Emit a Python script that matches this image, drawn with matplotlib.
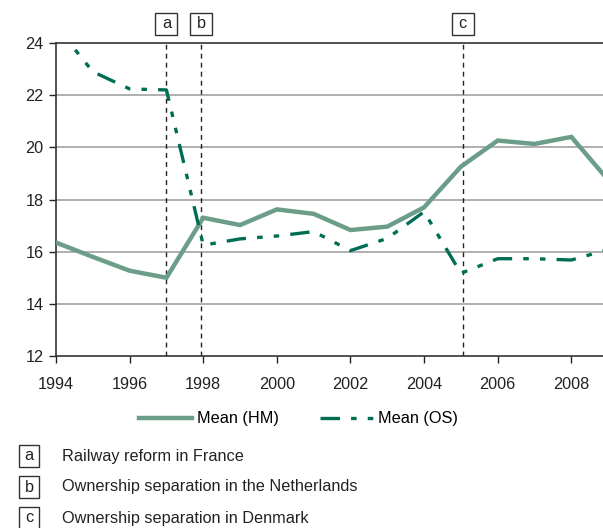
import matplotlib
matplotlib.use('Agg')
import matplotlib.pyplot as plt
from matplotlib.patches import Rectangle

plt.rcParams['font.family'] = ['Liberation Sans', 'DejaVu Sans']
plt.rcParams['lines.scale_dashes'] = False

years = [1994, 1995, 1996, 1997, 1998, 1999, 2000, 2001, 2002, 2003, 2004, 2005, 2006, 2007, 2008, 2009]
mean_hm = [16.35, 15.8, 15.27, 15.0, 17.3, 17.02, 17.62, 17.45, 16.83, 16.96, 17.7, 19.26, 20.26, 20.13, 20.4, 18.75]
mean_os = [24.65, 22.9, 22.24, 22.2, 16.25, 16.49, 16.6, 16.77, 16.04, 16.51, 17.53, 15.17, 15.73, 15.73, 15.68, 16.08]

events = [1997, 1997.95, 2005.05]
event_keys = ['a', 'b', 'c']
event_text = ['Railway reform in France',
              'Ownership separation in the Netherlands',
              'Ownership separation in Denmark']

yticks = [12, 14, 16, 18, 20, 22, 24]
xticks = [1994, 1996, 1998, 2000, 2002, 2004, 2006, 2008]

c_hm = '#6b9d89'
c_os = '#006e54'
fs = 11.7
W, H = 603, 528

fig = plt.figure(figsize=(W/100, H/100), dpi=100)
ax = fig.add_axes([56/W, (H-356)/H, (W-56)/W, 313/H])

for y in yticks[1:-1]:
    ax.axhline(y, color='#9a9a9a', lw=1.1, zorder=1)

for x in events:
    ax.axvline(x, color='#222222', lw=1.0, dashes=(3.5, 3.0), zorder=2)

ax.plot(years, mean_hm, color=c_hm, lw=3.2, solid_joinstyle='miter', zorder=3, label='Mean (HM)')
ax.plot(years, mean_os, color=c_os, lw=2.4, dashes=(14, 8, 4, 8, 4, 8), zorder=4, label='Mean (OS)')

ax.set_xlim(1994, 2008.86)
ax.set_ylim(12, 24)
ax.set_xticks(xticks)
ax.set_yticks(yticks)
ax.tick_params(axis='y', direction='out', length=5, width=1.0, labelsize=fs, colors='#222222', pad=4)
ax.tick_params(axis='x', direction='out', length=5, width=1.0, labelsize=fs, colors='#222222', pad=10)

ax.spines['right'].set_visible(False)
for side in ['left', 'bottom', 'top']:
    ax.spines[side].set_color('#333333')
    ax.spines[side].set_linewidth(1.2)


def key_box(xc, yc, w, h, k):
    # small square label, positions in pixels from top-left
    fig.patches.append(Rectangle(((xc - w/2)/W, 1 - (yc + h/2)/H), w/W, h/H,
                                 transform=fig.transFigure, fc='white', ec='#333333', lw=1.0))
    fig.text(xc/W, 1 - yc/H, k, ha='center', va='center', fontsize=fs, color='#222222')


# event markers above the plot
for x, k in zip(events, event_keys):
    xp = ax.transData.transform((x, 24))[0]
    key_box(xp, 24, 22, 22, k)

fig.legend(loc='center', bbox_to_anchor=(0.495, 1 - 419/H), ncol=2, frameon=False,
           fontsize=fs, handlelength=3.25, columnspacing=2.5, handletextpad=0.35)

for i, (k, t) in enumerate(zip(event_keys, event_text)):
    yy = 456 + 31*i
    key_box(29, yy, 20, 22, k)
    fig.text(62/W, 1 - yy/H, t, ha='left', va='center', fontsize=fs, color='#222222')

fig.savefig('out.png', dpi=100)
